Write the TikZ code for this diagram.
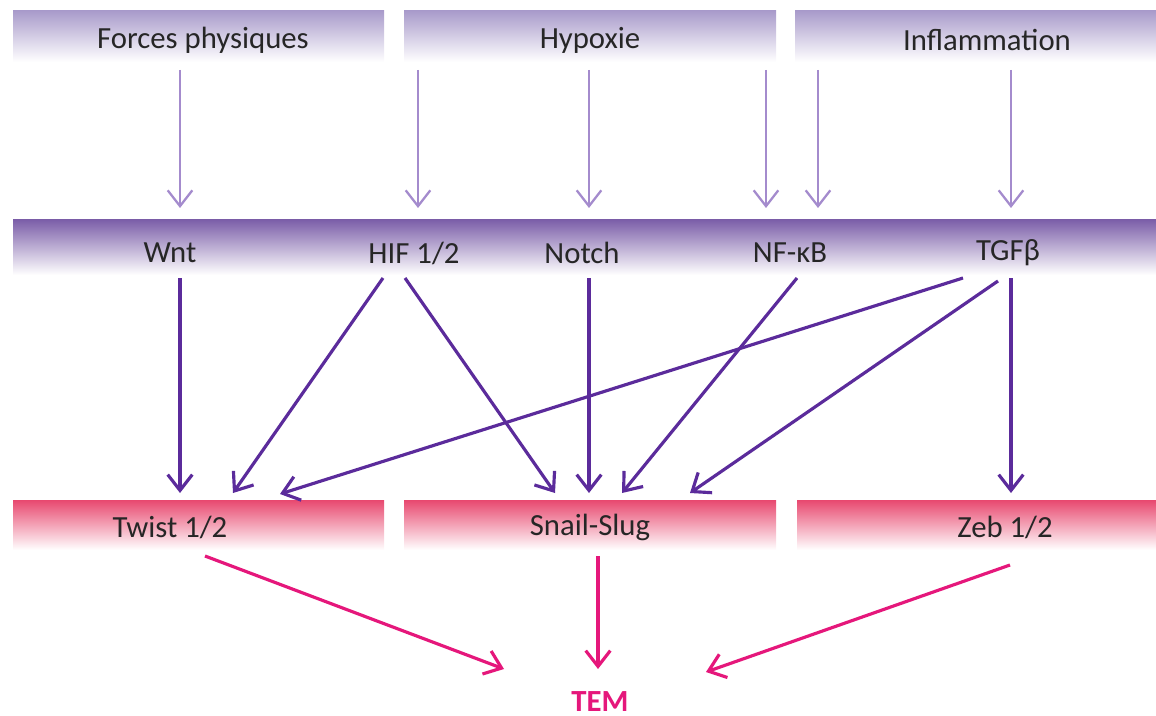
\documentclass[tikz,border=0pt]{standalone}
\usepackage{fontspec}
\setmainfont{Carlito}
\usetikzlibrary{arrows.meta}

\definecolor{lilac}{HTML}{A99BCB}
\definecolor{violet}{HTML}{7C5FA9}
\definecolor{rose}{HTML}{E8486F}
\definecolor{lightarrow}{HTML}{A48BCD}
\definecolor{darkarrow}{HTML}{5B2B9B}
\definecolor{magenta}{HTML}{E5177B}

\begin{document}
\begin{tikzpicture}[x=0.02cm, y=-0.02cm,
            every node/.style = {font = \fontsize{17.5}{20}\selectfont, text = black!85},
            cause/.style = {top color = lilac, bottom color = white},
            pathway/.style = {top color = violet, bottom color = white},
            factor/.style = {top color = rose, bottom color = white},
            tip/.style = {-{Straight Barb[length = 9pt, width = 14pt]}},
            soft/.style = {tip, draw = lightarrow, line width = 1.3pt},
            strong/.style = {tip, draw = darkarrow, line width = 1.8pt},
            final/.style = {tip, draw = magenta, line width = 1.8pt}]
            \useasboundingbox (0,0) rectangle (1156,716);
            % bars
            \shade[cause] (13,11) rectangle (384,62);
            \shade[cause] (404,11) rectangle (776,62);
            \shade[cause] (795,11) rectangle (1156,62);
            \shade[pathway] (13,220) rectangle (1156,275);
            \shade[factor] (13,500) rectangle (384,550);
            \shade[factor] (404,500) rectangle (776,550);
            \shade[factor] (797,500) rectangle (1156,550);
            % labels
            \node (forces) at (203,40) {Forces physiques};
            \node (hypoxie) at (590,40) {Hypoxie};
            \node (inflam) at (987,40) {Inflammation};
            \node (wnt) at (170,253) {Wnt};
            \node (hif) at (414,253) {HIF 1/2};
            \node (notch) at (582,253) {Notch};
            \node (nfkb) at (790,253) {NF-κB};
            \node (tgfb) at (1008,253) {TGFβ};
            \node (twist) at (170,527) {Twist 1/2};
            \node (snail) at (590,527) {Snail-Slug};
            \node (zeb) at (1005,527) {Zeb 1/2};
            \node[text = magenta, font = \fontsize{17.5}{20}\selectfont\bfseries, anchor = base, inner sep = 0pt] (tem) at (600,711) {TEM};
            % arrow ends
            \coordinate (forces-wnt) at (180,70);
            \coordinate (hyp-hif) at (418,70);
            \coordinate (hyp-notch) at (589,70);
            \coordinate (hyp-nfkb) at (766,70);
            \coordinate (infl-nfkb) at (818,70);
            \coordinate (infl-tgfb) at (1011,70);
            \coordinate (wnt-in) at (180,208);
            \coordinate (hif-in) at (418,208);
            \coordinate (notch-in) at (589,208);
            \coordinate (nfkb-in1) at (766,208);
            \coordinate (nfkb-in2) at (818,208);
            \coordinate (tgfb-in) at (1011,208);
            \coordinate (wnt-out) at (180,278);
            \coordinate (hif-out1) at (383,278);
            \coordinate (hif-out2) at (405,278);
            \coordinate (notch-out) at (589,278);
            \coordinate (nfkb-out) at (797,278);
            \coordinate (tgfb-out1) at (963,278);
            \coordinate (tgfb-out2) at (998,281);
            \coordinate (tgfb-out3) at (1011,278);
            \coordinate (twist-in1) at (180,493);
            \coordinate (twist-in2) at (233,493);
            \coordinate (twist-in3) at (280,494);
            \coordinate (snail-in1) at (555,493);
            \coordinate (snail-in2) at (589,493);
            \coordinate (snail-in3) at (622,493);
            \coordinate (snail-in4) at (690,493);
            \coordinate (zeb-in) at (1011,493);
            \coordinate (twist-out) at (205,556);
            \coordinate (snail-out) at (598,556);
            \coordinate (zeb-out) at (1010,565);
            \coordinate (tem-in1) at (504,669);
            \coordinate (tem-in2) at (598,669);
            \coordinate (tem-in3) at (706,672);
            % stimuli
            \draw[soft] (forces-wnt) -- (wnt-in);
            \draw[soft] (hyp-hif) -- (hif-in);
            \draw[soft] (hyp-notch) -- (notch-in);
            \draw[soft] (hyp-nfkb) -- (nfkb-in1);
            \draw[soft] (infl-nfkb) -- (nfkb-in2);
            \draw[soft] (infl-tgfb) -- (tgfb-in);
            % pathways
            \draw[strong] (wnt-out) -- (twist-in1);
            \draw[strong] (hif-out1) -- (twist-in2);
            \draw[strong] (hif-out2) -- (snail-in1);
            \draw[strong] (notch-out) -- (snail-in2);
            \draw[strong] (nfkb-out) -- (snail-in3);
            \draw[strong] (tgfb-out1) -- (twist-in3);
            \draw[strong] (tgfb-out2) -- (snail-in4);
            \draw[strong] (tgfb-out3) -- (zeb-in);
            % transcription factors
            \draw[final] (twist-out) -- (tem-in1);
            \draw[final] (snail-out) -- (tem-in2);
            \draw[final] (zeb-out) -- (tem-in3);
        \end{tikzpicture}
\end{document}
